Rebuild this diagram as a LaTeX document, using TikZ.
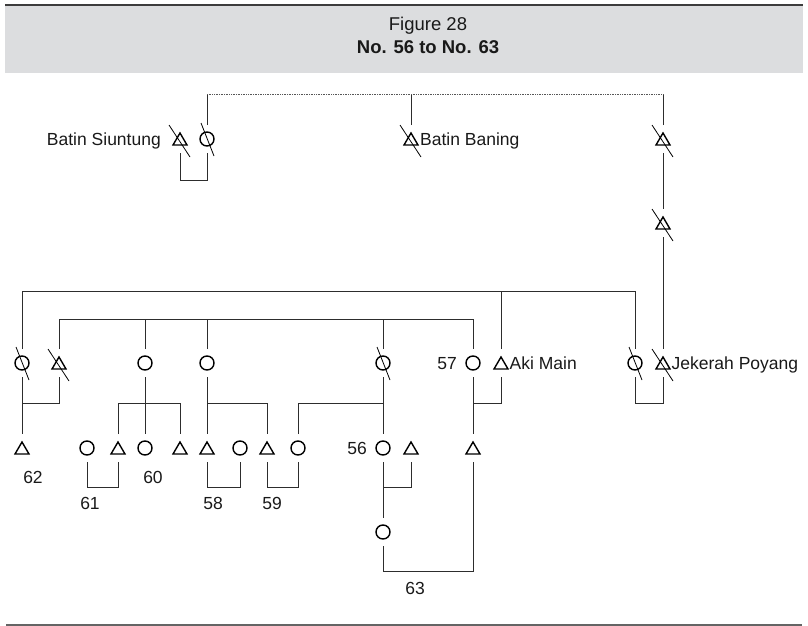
\documentclass[tikz,border=0pt]{standalone}
\usepackage{fontspec}
\setmainfont{Liberation Sans}
\definecolor{lc}{RGB}{45,45,45}
\definecolor{tc}{RGB}{25,25,25}
\definecolor{hdr}{RGB}{220,221,223}
\definecolor{hline}{RGB}{60,60,60}
\definecolor{bline}{RGB}{100,100,100}
\tikzset{
  ln/.style={draw=lc, line width=0.9pt},
  dots/.style={draw=lc!80, line width=0.7pt, dash pattern=on 0.8pt off 0.9pt},
  sym/.style={draw=black, line width=1.4pt},
  sl/.style={draw=black, line width=0.8pt},
  person/.style={rectangle, minimum width=16pt, minimum height=28pt, inner sep=0pt, outer sep=0pt},
  lab/.style={font=\fontsize{17.5}{20}\selectfont, inner sep=0pt, text=tc},
  ttl/.style={font=\fontsize{18.5}{22}\selectfont, inner sep=0pt, text=tc},
}
\newcommand\pM[3]{\node[person] (#1) at (#2,#3) {}; \draw[sym] (#1.center) ++(-7,6) -- ++(14,0) -- ++(-7,-12) -- cycle;}
\newcommand\pF[3]{\node[person] (#1) at (#2,#3) {}; \draw[sym] (#1.center) circle (7pt);}
\newcommand\xM[1]{\draw[sl] (#1.center) ++(-11,-14) -- ++(21,32);}
\newcommand\xF[1]{\draw[sl] (#1.center) ++(-6,-16) -- ++(13,33);}
\begin{document}
\begin{tikzpicture}[x=1pt,y=-1pt]
\useasboundingbox (0,0) rectangle (808,626);
% header
\fill[hdr] (5,5) rectangle (803,73);
\draw[hline, line width=1.6pt] (5,5) -- (803,5);
\node[ttl, anchor=base] (t1) at (428,30.7) {Figure 28};
\node[ttl, anchor=base, font=\fontsize{18.5}{22}\selectfont\bfseries] (t2) at (428,53.3) {No. 56 to No. 63};
\draw[bline, line width=1.6pt] (6,625) -- (802,625);
% persons
\pM{bs}{180}{139} \xM{bs}
\pF{bsw}{207}{139} \xF{bsw}
\pM{bb}{411}{139} \xM{bb}
\pM{j1}{663}{139} \xM{j1}
\pM{j2}{663}{223} \xM{j2}
\pM{jp}{663}{363} \xM{jp}
\pF{jpw}{635}{363} \xF{jpw}
\pF{a}{22}{363} \xF{a}
\pM{b}{59}{363} \xM{b}
\pF{c}{145}{363}
\pF{d}{207}{363}
\pF{e}{383}{363} \xF{e}
\pF{f57}{473}{363}
\pM{am}{501}{363}
\pM{p62}{22}{448}
\pF{p61w}{87}{448}
\pM{p61}{118}{448}
\pF{p60}{145}{448}
\pM{p180}{180}{448}
\pM{p58}{207}{448}
\pF{p58w}{240}{448}
\pM{p59}{267}{448}
\pF{p59w}{298}{448}
\pF{p56}{383}{448}
\pM{p56h}{411}{448}
\pM{p474}{473}{448}
\pF{p63}{383}{532}
% helper levels
\coordinate (top) at (0,94);
\coordinate (bar1) at (0,291);
\coordinate (bar2) at (0,319);
\coordinate (m1) at (0,403);
\coordinate (m2) at (0,487);
\coordinate (m3) at (0,571);
% top generation
\draw[ln] (bsw.north) -- (bsw.north |- top);
\draw[ln] (bb.north) -- (bb.north |- top);
\draw[ln] (j1.north) -- (j1.north |- top);
\draw[dots] (bsw.north |- top) -- (j1.north |- top);
\draw[ln] (bs.south) -- (bs.south |- 0,180) -| (bsw.south);
\draw[ln] (j1.south) -- (j2.north);
\draw[ln] (j2.south) -- (jp.north);
\draw[ln] (jpw.south) -- (jpw.south |- m1) -| (jp.south);
% bars
\draw[ln] (a.north) -- (a.north |- bar1) -- (jpw.north |- bar1) -- (jpw.north);
\draw[ln] (am.north) -- (am.north |- bar1);
\draw[ln] (b.north) -- (b.north |- bar2) -- (f57.north |- bar2) -- (f57.north);
\draw[ln] (c.north) -- (c.north |- bar2);
\draw[ln] (d.north) -- (d.north |- bar2);
\draw[ln] (e.north) -- (e.north |- bar2);
% second generation descents
\draw[ln] (a.south) -- (p62.north);
\draw[ln] (a.south |- m1) -| (b.south);
\draw[ln] (c.south) -- (p60.north);
\draw[ln] (p61.north) -- (p61.north |- m1) -- (p180.north |- m1) -- (p180.north);
\draw[ln] (d.south) -- (p58.north);
\draw[ln] (d.south |- m1) -| (p59.north);
\draw[ln] (e.south) -- (p56.north);
\draw[ln] (p59w.north) |- (e.south |- m1);
\draw[ln] (f57.south) -- (p474.north);
\draw[ln] (f57.south |- m1) -| (am.south);
% third generation marriages
\draw[ln] (p61w.south) -- (p61w.south |- m2) -| (p61.south);
\draw[ln] (p58.south) -- (p58.south |- m2) -| (p58w.south);
\draw[ln] (p59.south) -- (p59.south |- m2) -| (p59w.south);
\draw[ln] (p56.south) -- (p63.north);
\draw[ln] (p56.south |- m2) -| (p56h.south);
\draw[ln] (p63.south) -- (p63.south |- m3) -| (p474.south);
% labels
\node[lab, anchor=base east] (lbs) at (161,145.3) {Batin Siuntung};
\node[lab, anchor=base west] (lbb) at (420,145.3) {Batin Baning};
\node[lab, anchor=base west] (lam) at (509.5,369.3) {Aki Main};
\node[lab, anchor=base west] (ljp) at (671.5,369.3) {Jekerah Poyang};
\node[lab, anchor=base] (l57) at (447,369.3) {57};
\node[lab, anchor=base] (l56) at (357,454.3) {56};
\node[lab, anchor=base] (l62) at (33,483.3) {62};
\node[lab, anchor=base] (l60) at (153,483.3) {60};
\node[lab, anchor=base] (l61) at (90,509.3) {61};
\node[lab, anchor=base] (l58) at (213,509.3) {58};
\node[lab, anchor=base] (l59) at (272,509.3) {59};
\node[lab, anchor=base] (l63) at (415,594.3) {63};
\end{tikzpicture}
\end{document}
